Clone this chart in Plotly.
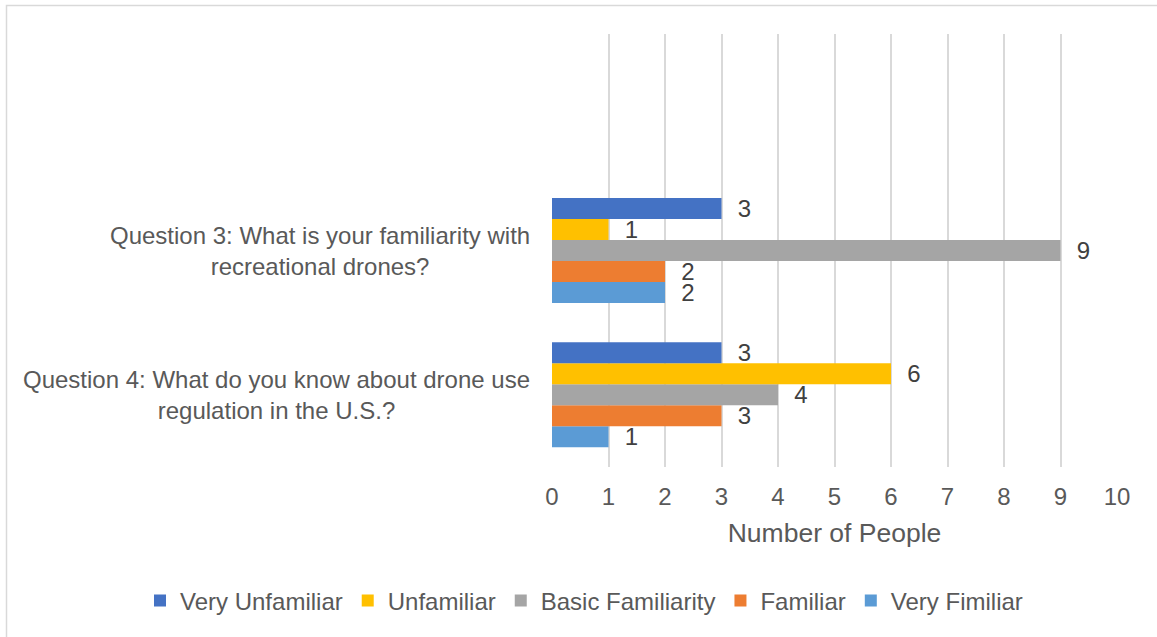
import plotly.graph_objects as go

# Survey responses, one list per familiarity level
questions = [
    "Question 4: What do you know about drone use<br>regulation in the U.S.?",
    "Question 3: What is your familiarity with<br>recreational drones?",
]
slot_order = [questions[0], questions[1], " "]  # empty slot above the two questions

levels = ["Very Unfamiliar", "Unfamiliar", "Basic Familiarity", "Familiar", "Very Fimiliar"]
very_unfamiliar = [3, 3]
unfamiliar = [6, 1]
basic_familiarity = [4, 9]
familiar = [3, 2]
very_fimiliar = [1, 2]
level_values = [very_unfamiliar, unfamiliar, basic_familiarity, familiar, very_fimiliar]
level_colors = ["#4472C4", "#FFC000", "#A5A5A5", "#ED7D31", "#5B9BD5"]

x_ticks = list(range(0, 11))

W, H = 1157, 637
M_L, M_R, M_T, M_B = 552, 40, 34, 170
FONT = "Liberation Sans, Arial, sans-serif"
TXT = "#595959"

pw, ph = W - M_L - M_R, H - M_T - M_B
def px_x(px):
    return (px - M_L) / pw
def px_y(py):
    return (H - M_B - py) / ph

fig = go.Figure()
# added bottom-up so the first level sits on top of each group
for name, vals, col in reversed(list(zip(levels, level_values, level_colors))):
    fig.add_trace(go.Bar(
        name=name, y=questions, x=vals, orientation="h",
        marker=dict(color=col, line=dict(width=0)),
        text=vals, texttemplate="\u00a0\u00a0%{x}", textposition="outside",
        constraintext="none", cliponaxis=False,
        textfont=dict(family=FONT, size=24, color="#404040"),
        hoverinfo="skip",
    ))

# question labels, centred line by line to the left of the plot
for q in questions:
    fig.add_annotation(
        x=px_x(532), xref="paper", y=q, yref="y", text=q, showarrow=False,
        xanchor="right", yanchor="middle", align="center",
        font=dict(family=FONT, size=24, color=TXT),
    )

# chart frame
fig.add_shape(type="rect", xref="paper", yref="paper",
              x0=px_x(6.5), x1=px_x(1175), y0=px_y(650), y1=px_y(5.5),
              line=dict(color="#D9D9D9", width=1.5), fillcolor="rgba(0,0,0,0)", layer="below")

fig.update_layout(
    width=W, height=H,
    margin=dict(l=M_L, r=M_R, t=M_T, b=M_B),
    paper_bgcolor="white", plot_bgcolor="white",
    barmode="group", bargap=0.273, bargroupgap=0,
    font=dict(family=FONT, size=24, color=TXT),
    showlegend=True,
    legend=dict(
        orientation="h", traceorder="reversed",
        x=px_x(140), xanchor="left", y=px_y(601), yanchor="middle",
        font=dict(family=FONT, size=24, color=TXT),
        itemwidth=30, bgcolor="rgba(0,0,0,0)",
    ),
    xaxis=dict(
        range=[0, 10], tickvals=x_ticks, showgrid=True, gridcolor="#D9D9D9", gridwidth=1.5,
        zeroline=False, showline=False, ticks="", ticklabelstandoff=13,
        tickfont=dict(family=FONT, size=24, color=TXT),
        title=dict(text="Number of People", font=dict(family=FONT, size=26.5, color=TXT), standoff=14),
        fixedrange=True,
    ),
    yaxis=dict(
        type="category", categoryorder="array", categoryarray=slot_order,
        range=[-0.5, 2.5], showticklabels=False, showgrid=False, zeroline=False,
        showline=False, ticks="", fixedrange=True,
    ),
)

fig.write_html("out.html")
